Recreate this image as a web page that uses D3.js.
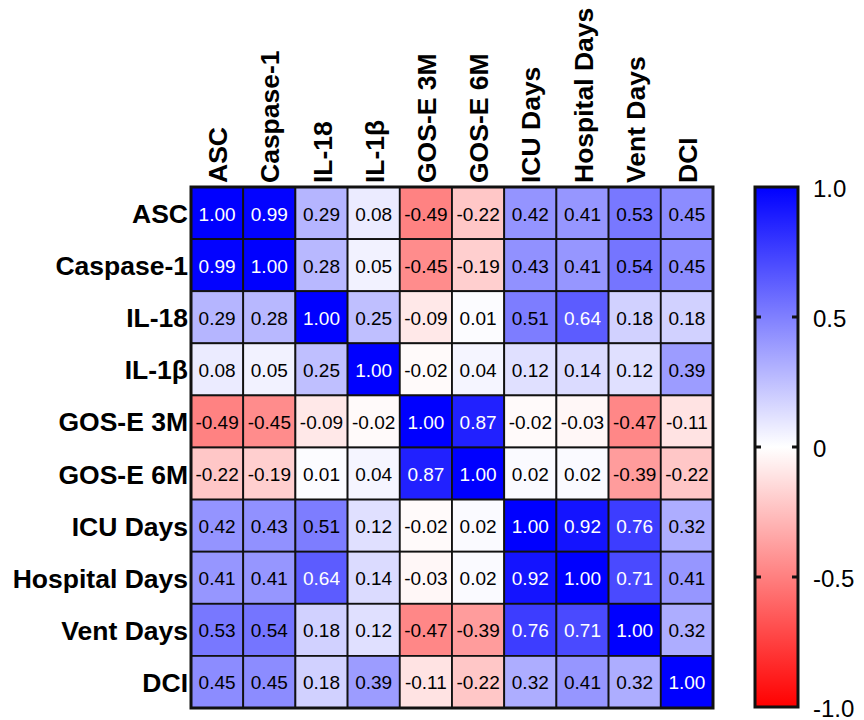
<!DOCTYPE html>
<html>
<head>
<meta charset="utf-8">
<script src="https://cdn.jsdelivr.net/npm/d3@7"></script>
<style>
  body { margin: 0; background: #fff; }
  text { font-family: "Liberation Sans", Arial, Helvetica, sans-serif; }
</style>
</head>
<body>
<div id="chart"></div>
<script>
let labels = ['ASC', 'Caspase-1', 'IL-18', 'IL-1β', 'GOS-E 3M', 'GOS-E 6M',
  'ICU Days', 'Hospital Days', 'Vent Days', 'DCI']

let rowASC = [1.00, 0.99, 0.29, 0.08, -0.49, -0.22, 0.42, 0.41, 0.53, 0.45]
let rowCasp = [0.99, 1.00, 0.28, 0.05, -0.45, -0.19, 0.43, 0.41, 0.54, 0.45]
let rowIL18 = [0.29, 0.28, 1.00, 0.25, -0.09, 0.01, 0.51, 0.64, 0.18, 0.18]
let rowIL1b = [0.08, 0.05, 0.25, 1.00, -0.02, 0.04, 0.12, 0.14, 0.12, 0.39]
let rowGos3 = [-0.49, -0.45, -0.09, -0.02, 1.00, 0.87, -0.02, -0.03, -0.47, -0.11]
let rowGos6 = [-0.22, -0.19, 0.01, 0.04, 0.87, 1.00, 0.02, 0.02, -0.39, -0.22]
let rowICU = [0.42, 0.43, 0.51, 0.12, -0.02, 0.02, 1.00, 0.92, 0.76, 0.32]
let rowHosp = [0.41, 0.41, 0.64, 0.14, -0.03, 0.02, 0.92, 1.00, 0.71, 0.41]
let rowVent = [0.53, 0.54, 0.18, 0.12, -0.47, -0.39, 0.76, 0.71, 1.00, 0.32]
let rowDCI = [0.45, 0.45, 0.18, 0.39, -0.11, -0.22, 0.32, 0.41, 0.32, 1.00]

let legendTicks = [1, 0.5, 0, -0.5, -1]

let matrix = [rowASC, rowCasp, rowIL18, rowIL1b, rowGos3, rowGos6, rowICU, rowHosp, rowVent, rowDCI]

let width = 864
let height = 720

let svg = d3
  .select('#chart')
  .append('svg')
  .attr('width', width)
  .attr('height', height)

// heatmap area
let gridLeft = 191
let gridRight = 713
let gridTop = 187
let gridBottom = 708

let x = d3.scaleBand().domain(labels).range([gridLeft, gridRight])
let y = d3.scaleBand().domain(labels).range([gridTop, gridBottom])

let color = d3
  .scaleLinear()
  .domain([-1, 0, 1])
  .range(['#ff0000', '#ffffff', '#0000ff'])

// plain hyphen for negatives, like the original figure
let fmt2 = v => d3.format('.2f')(v).replace('−', '-')
let fmt1 = v => (v === 0 ? '0' : d3.format('.1f')(v).replace('−', '-'))

// flatten into cells
let cells = []
matrix.forEach(function(row, i) {
  row.forEach(function(v, j) {
    cells.push({ row: labels[i], col: labels[j], value: v })
  })
})

svg
  .selectAll('.cell')
  .data(cells)
  .enter()
  .append('rect')
  .attr('class', 'cell')
  .attr('x', d => x(d.col))
  .attr('y', d => y(d.row))
  .attr('width', x.bandwidth())
  .attr('height', y.bandwidth())
  .attr('fill', d => color(d.value))
  .attr('stroke', '#111')
  .attr('stroke-width', 1.8)

svg
  .selectAll('.val')
  .data(cells)
  .enter()
  .append('text')
  .attr('class', 'val')
  .attr('x', d => x(d.col) + x.bandwidth() / 2)
  .attr('y', d => y(d.row) + y.bandwidth() / 2 + 1)
  .attr('text-anchor', 'middle')
  .attr('dominant-baseline', 'central')
  .attr('font-size', 19)
  .attr('fill', d => (Math.abs(d.value) > 0.6 ? '#fff' : '#000'))
  .text(d => fmt2(d.value))

// outer frame
svg
  .append('rect')
  .attr('x', gridLeft)
  .attr('y', gridTop)
  .attr('width', gridRight - gridLeft)
  .attr('height', gridBottom - gridTop)
  .attr('fill', 'none')
  .attr('stroke', '#111')
  .attr('stroke-width', 3)

// row labels
svg
  .selectAll('.rowlab')
  .data(labels)
  .enter()
  .append('text')
  .attr('class', 'rowlab')
  .attr('x', gridLeft - 3)
  .attr('y', d => y(d) + y.bandwidth() / 2 + 1)
  .attr('text-anchor', 'end')
  .attr('dominant-baseline', 'central')
  .attr('font-size', 26.5)
  .attr('font-weight', 'bold')
  .text(d => d)

// column labels, rotated
svg
  .selectAll('.collab')
  .data(labels)
  .enter()
  .append('text')
  .attr('class', 'collab')
  .attr('transform', d => `translate(${x(d) + x.bandwidth() / 2 + 1},${gridTop - 4}) rotate(-90)`)
  .attr('text-anchor', 'start')
  .attr('dominant-baseline', 'central')
  .attr('font-size', 26.5)
  .attr('font-weight', 'bold')
  .text(d => d)

// colour bar
let barX = 755
let barW = 43
let barScale = d3.scaleLinear().domain([1, -1]).range([gridTop, 707])

let defs = svg.append('defs')
let grad = defs
  .append('linearGradient')
  .attr('id', 'grad')
  .attr('x1', 0)
  .attr('y1', 0)
  .attr('x2', 0)
  .attr('y2', 1)
grad.append('stop').attr('offset', '0%').attr('stop-color', color(1))
grad.append('stop').attr('offset', '50%').attr('stop-color', color(0))
grad.append('stop').attr('offset', '100%').attr('stop-color', color(-1))

svg
  .append('rect')
  .attr('x', barX)
  .attr('y', barScale(1))
  .attr('width', barW)
  .attr('height', barScale(-1) - barScale(1))
  .attr('fill', 'url(#grad)')
  .attr('stroke', '#111')
  .attr('stroke-width', 3)

// small inside ticks on both edges
let inner = legendTicks.filter(t => Math.abs(t) < 1)
svg
  .selectAll('.tickL')
  .data(inner)
  .enter()
  .append('line')
  .attr('x1', barX)
  .attr('x2', barX + 6)
  .attr('y1', d => barScale(d))
  .attr('y2', d => barScale(d))
  .attr('stroke', '#111')
  .attr('stroke-width', 3)
svg
  .selectAll('.tickR')
  .data(inner)
  .enter()
  .append('line')
  .attr('x1', barX + barW - 6)
  .attr('x2', barX + barW)
  .attr('y1', d => barScale(d))
  .attr('y2', d => barScale(d))
  .attr('stroke', '#111')
  .attr('stroke-width', 3)

svg
  .selectAll('.blab')
  .data(legendTicks)
  .enter()
  .append('text')
  .attr('x', barX + barW + 15)
  .attr('y', d => barScale(d) + 1)
  .attr('dominant-baseline', 'central')
  .attr('font-size', 24)
  .text(d => fmt1(d))
</script>
</body>
</html>
